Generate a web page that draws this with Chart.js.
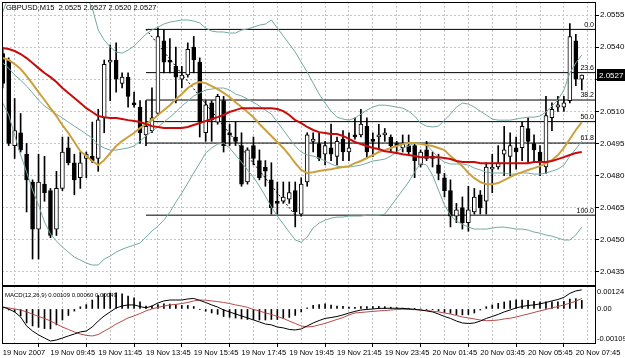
<!DOCTYPE html>
<html>
<head>
<meta charset="utf-8">
<script src="https://cdn.jsdelivr.net/npm/chart.js@4.4.1/dist/chart.umd.min.js"></script>
<style>
html, body { margin: 0; padding: 0; background: #fff; }
#wrap { position: relative; width: 625px; height: 358px; overflow: hidden; background: #fff; }
canvas { position: absolute; left: 0; }
#main { top: 0; }
#macd { top: 286px; }
.txt { position: absolute; font-family: 'Liberation Sans', Arial, sans-serif; color: #000; white-space: pre; line-height: 9px; }
</style>
</head>
<body>
<div id="wrap">
  <canvas id="main" width="625" height="286"></canvas>
  <canvas id="macd" width="625" height="72"></canvas>
  <div class="txt" style="left:6px;top:3px;font-size:7.5px">GBPUSD,M15  2.0525 2.0527 2.0520 2.0527</div>
  <div class="txt" style="left:5px;top:291px;font-size:6px">MACD(12,26,9) 0.00109 0.00060 0.00049</div>
</div>
<script>
// GBPUSD M15, 19 Nov 2007 07:45 .. 20 Nov 2007 08:00 (98 bars)
const tickLabels = ['19 Nov 2007', '19 Nov 09:45', '19 Nov 11:45', '19 Nov 13:45', '19 Nov 15:45',
  '19 Nov 17:45', '19 Nov 19:45', '19 Nov 21:45', '19 Nov 23:45', '20 Nov 01:45', '20 Nov 03:45',
  '20 Nov 05:45', '20 Nov 07:45']
const barsPerLabel = 8
const barsPerGrid = 4

const open = [2.0537,2.0534,2.0494,2.0500,2.0490,2.0477,2.0455,2.0476,2.0473,2.0455,
  2.0474,2.0493,2.0486,2.0479,2.0488,2.0489,2.0488,2.0507,2.0533,2.0534,
  2.0523,2.0526,2.0514,2.0512,2.0499,2.0501,2.0509,2.0543,2.0534,2.0531,
  2.0525,2.0527,2.0540,2.0533,2.0500,2.0514,2.0505,2.0515,2.0500,2.0498,
  2.0494,2.0477,2.0494,2.0487,2.0484,2.0478,2.0468,2.0468,2.0469,2.0473,
  2.0462,2.0477,2.0496,2.0495,2.0490,2.0493,2.0489,2.0497,2.0491,2.0499,
  2.0499,2.0503,2.0497,2.0498,2.0499,2.0498,2.0495,2.0493,2.0494,2.0494,
  2.0485,2.0492,2.0489,2.0485,2.0479,2.0473,2.0461,2.0465,2.0458,2.0463,
  2.0471,2.0468,2.0483,2.0484,2.0490,2.0489,2.0493,2.0493,2.0502,2.0495,
  2.0491,2.0484,2.0507,2.0512,2.0512,2.0515,2.0543,2.0525]
const high = [2.0539,2.0535,2.0516,2.0509,2.0495,2.0478,2.0490,2.0489,2.0474,2.0482,
  2.0498,2.0498,2.0490,2.0491,2.0491,2.0505,2.0511,2.0534,2.0541,2.0542,
  2.0528,2.0528,2.0519,2.0515,2.0515,2.0521,2.0549,2.0548,2.0544,2.0540,
  2.0531,2.0542,2.0545,2.0535,2.0515,2.0515,2.0518,2.0517,2.0504,2.0505,
  2.0500,2.0493,2.0498,2.0492,2.0487,2.0486,2.0477,2.0477,2.0477,2.0477,
  2.0479,2.0500,2.0500,2.0500,2.0496,2.0504,2.0498,2.0501,2.0500,2.0507,
  2.0511,2.0507,2.0500,2.0504,2.0502,2.0499,2.0496,2.0499,2.0499,2.0495,
  2.0492,2.0496,2.0491,2.0490,2.0481,2.0478,2.0467,2.0470,2.0475,2.0474,
  2.0473,2.0486,2.0490,2.0494,2.0503,2.0500,2.0498,2.0505,2.0507,2.0499,
  2.0494,2.0517,2.0514,2.0517,2.0517,2.0551,2.0546,2.0527]
const low = [2.0521,2.0494,2.0488,2.0491,2.0463,2.0441,2.0441,2.0468,2.0451,2.0452,
  2.0473,2.0485,2.0471,2.0474,2.0479,2.0486,2.0482,2.0500,2.0515,2.0519,
  2.0521,2.0512,2.0512,2.0495,2.0494,2.0500,2.0508,2.0528,2.0528,2.0514,
  2.0521,2.0526,2.0528,2.0498,2.0496,2.0496,2.0504,2.0491,2.0494,2.0494,
  2.0475,2.0476,2.0485,2.0478,2.0475,2.0462,2.0462,2.0467,2.0467,2.0456,
  2.0461,2.0475,2.0491,2.0487,2.0485,2.0487,2.0485,2.0487,2.0487,2.0497,
  2.0498,2.0488,2.0489,2.0492,2.0496,2.0491,2.0491,2.0491,2.0490,2.0479,
  2.0484,2.0487,2.0484,2.0478,2.0470,2.0456,2.0458,2.0455,2.0454,2.0462,
  2.0462,2.0462,2.0472,2.0483,2.0480,2.0480,2.0483,2.0487,2.0486,2.0486,
  2.0480,2.0481,2.0501,2.0510,2.0510,2.0514,2.0522,2.0520]
const close = [2.0523,2.0495,2.0501,2.0492,2.0478,2.0455,2.0477,2.0472,2.0452,2.0474,
  2.0491,2.0486,2.0478,2.0486,2.0490,2.0487,2.0506,2.0532,2.0534,2.0525,
  2.0526,2.0517,2.0513,2.0500,2.0503,2.0507,2.0545,2.0533,2.0533,2.0526,
  2.0527,2.0539,2.0534,2.0505,2.0513,2.0506,2.0517,2.0494,2.0499,2.0496,
  2.0476,2.0492,2.0488,2.0479,2.0482,2.0465,2.0467,2.0470,2.0472,2.0463,
  2.0476,2.0499,2.0497,2.0488,2.0494,2.0490,2.0496,2.0491,2.0493,2.0498,
  2.0504,2.0491,2.0496,2.0499,2.0500,2.0494,2.0494,2.0495,2.0491,2.0487,
  2.0491,2.0488,2.0488,2.0481,2.0473,2.0461,2.0464,2.0458,2.0464,2.0470,
  2.0465,2.0484,2.0484,2.0486,2.0492,2.0494,2.0491,2.0503,2.0496,2.0492,
  2.0486,2.0508,2.0511,2.0513,2.0514,2.0545,2.0525,2.0527]

// slow moving average (red)
const maRed = [2.05396,2.05391,2.05382,2.05368,2.05349,2.05326,2.05302,2.05279,2.05260,2.05237,
  2.05209,2.05186,2.05162,2.05139,2.05115,2.05097,2.05078,2.05073,2.05069,2.05069,
  2.05064,2.05059,2.05055,2.05050,2.05041,2.05031,2.05027,2.05022,2.05022,2.05022,
  2.05022,2.05027,2.05036,2.05045,2.05055,2.05064,2.05073,2.05083,2.05097,2.05106,
  2.05115,2.05115,2.05115,2.05115,2.05115,2.05115,2.05111,2.05101,2.05083,2.05059,
  2.05045,2.05027,2.05013,2.05003,2.04999,2.04994,2.04994,2.04985,2.04971,2.04957,
  2.04947,2.04938,2.04929,2.04924,2.04914,2.04910,2.04905,2.04900,2.04896,2.04891,
  2.04886,2.04886,2.04886,2.04886,2.04882,2.04877,2.04868,2.04863,2.04863,2.04863,
  2.04858,2.04858,2.04858,2.04858,2.04858,2.04858,2.04858,2.04858,2.04858,2.04863,
  2.04863,2.04863,2.04868,2.04877,2.04886,2.04896,2.04905,2.04910]
// fast moving average (gold)
const maGold = [2.05349,2.05340,2.05321,2.05298,2.05265,2.05228,2.05190,2.05153,2.05115,2.05078,
  2.05036,2.04999,2.04957,2.04914,2.04891,2.04868,2.04849,2.04872,2.04905,2.04938,
  2.04961,2.04980,2.04999,2.05022,2.05041,2.05059,2.05083,2.05106,2.05129,2.05157,
  2.05181,2.05209,2.05228,2.05237,2.05232,2.05218,2.05204,2.05186,2.05167,2.05143,
  2.05120,2.05097,2.05073,2.05041,2.05013,2.04985,2.04957,2.04929,2.04896,2.04858,
  2.04826,2.04812,2.04816,2.04821,2.04826,2.04830,2.04835,2.04840,2.04844,2.04858,
  2.04868,2.04882,2.04896,2.04910,2.04919,2.04929,2.04938,2.04947,2.04952,2.04952,
  2.04947,2.04943,2.04938,2.04929,2.04919,2.04891,2.04868,2.04844,2.04812,2.04788,
  2.04770,2.04760,2.04760,2.04765,2.04779,2.04793,2.04807,2.04816,2.04826,2.04835,
  2.04844,2.04858,2.04872,2.04896,2.04929,2.04971,2.05013,2.05050]
// bollinger bands
const bbUpper = [2.05564,2.05640,2.05680,2.05710,2.05740,2.05770,2.05807,2.05830,2.05844,2.05844,
  2.05830,2.05798,2.05751,2.05690,2.05634,2.05583,2.05480,2.05433,2.05401,2.05377,
  2.05372,2.05386,2.05405,2.05433,2.05461,2.05480,2.05494,2.05508,2.05517,2.05522,
  2.05527,2.05527,2.05522,2.05513,2.05489,2.05475,2.05471,2.05471,2.05466,2.05466,
  2.05480,2.05485,2.05494,2.05503,2.05508,2.05527,2.05489,2.05452,2.05415,2.05377,
  2.05330,2.05284,2.05232,2.05181,2.05139,2.05101,2.05073,2.05064,2.05059,2.05069,
  2.05087,2.05106,2.05120,2.05129,2.05129,2.05125,2.05120,2.05115,2.05101,2.05078,
  2.05045,2.05031,2.05027,2.05031,2.05059,2.05087,2.05120,2.05139,2.05134,2.05120,
  2.05101,2.05083,2.05064,2.05059,2.05059,2.05059,2.05064,2.05069,2.05073,2.05073,
  2.05078,2.05097,2.05125,2.05153,2.05200,2.05279,2.05326,2.05363]
const bbMid = [2.05326,2.05302,2.05270,2.05246,2.05218,2.05186,2.05153,2.05125,2.05106,2.05087,
  2.05069,2.05050,2.05031,2.05013,2.04994,2.04975,2.04943,2.04929,2.04919,2.04919,
  2.04924,2.04929,2.04938,2.04961,2.04985,2.05008,2.05027,2.05050,2.05073,2.05097,
  2.05125,2.05148,2.05172,2.05186,2.05200,2.05204,2.05209,2.05209,2.05200,2.05181,
  2.05172,2.05157,2.05143,2.05125,2.05106,2.05087,2.05050,2.05013,2.04975,2.04938,
  2.04910,2.04896,2.04891,2.04882,2.04868,2.04854,2.04844,2.04840,2.04840,2.04844,
  2.04849,2.04858,2.04868,2.04872,2.04877,2.04891,2.04910,2.04929,2.04938,2.04952,
  2.04952,2.04943,2.04914,2.04882,2.04863,2.04854,2.04854,2.04854,2.04849,2.04835,
  2.04826,2.04816,2.04812,2.04812,2.04812,2.04807,2.04807,2.04812,2.04812,2.04807,
  2.04807,2.04812,2.04821,2.04830,2.04849,2.04891,2.04924,2.04961]
const bbLower = [2.05139,2.05083,2.04989,2.04896,2.04816,2.04732,2.04662,2.04583,2.04527,2.04494,
  2.04466,2.04442,2.04419,2.04405,2.04391,2.04382,2.04382,2.04410,2.04424,2.04442,
  2.04456,2.04466,2.04475,2.04485,2.04513,2.04541,2.04564,2.04592,2.04629,2.04676,
  2.04718,2.04765,2.04812,2.04858,2.04905,2.04929,2.04947,2.04952,2.04929,2.04896,
  2.04863,2.04826,2.04793,2.04751,2.04704,2.04653,2.04611,2.04573,2.04536,2.04499,
  2.04489,2.04513,2.04555,2.04578,2.04592,2.04601,2.04606,2.04606,2.04611,2.04611,
  2.04611,2.04615,2.04615,2.04615,2.04620,2.04657,2.04695,2.04732,2.04770,2.04816,
  2.04858,2.04849,2.04802,2.04732,2.04662,2.04615,2.04587,2.04573,2.04559,2.04550,
  2.04550,2.04550,2.04555,2.04559,2.04559,2.04555,2.04550,2.04550,2.04545,2.04536,
  2.04531,2.04522,2.04517,2.04508,2.04499,2.04499,2.04522,2.04559]

// fibonacci retracement drawn from bar 24 (high) to bar 49 (low)
const fibNames = ['0.0', '23.6', '38.2', '50.0', '61.8', '100.0']
const fibPrices = [2.05483, 2.05281, 2.05153, 2.05052, 2.04952, 2.04615]
const fibFromBar = 24
const fibToBar = 49

// MACD(12,26,9)
const macdMain = [0.00011,0,-0.00017,-0.00046,-0.00097,-0.00126,-0.00148,-0.00166,-0.00183,-0.00177,
  -0.00166,-0.00154,-0.00143,-0.00131,-0.00126,-0.00103,-0.00069,-0.00040,-0.00017,0.00006,
  0.00017,0.00023,0.00023,0.00014,0.00006,0.00017,0.00034,0.00046,0.00051,0.00051,
  0.00051,0.00057,0.00060,0.00049,0.00037,0.00023,0.00011,-0.00006,-0.00017,-0.00029,
  -0.00040,-0.00051,-0.00063,-0.00074,-0.00086,-0.00091,-0.00103,-0.00108,-0.00117,-0.00120,
  -0.00114,-0.00097,-0.00080,-0.00066,-0.00054,-0.00049,-0.00043,-0.00034,-0.00023,-0.00014,
  -0.00006,-0.00003,0,0.00003,0.00004,0.00004,0.00004,0.00003,0.00001,-0.00002,
  -0.00006,-0.00011,-0.00017,-0.00029,-0.00043,-0.00054,-0.00069,-0.00080,-0.00083,-0.00080,
  -0.00069,-0.00054,-0.00043,-0.00031,-0.00017,-0.00006,0.00006,0.00014,0.00020,0.00023,
  0.00029,0.00037,0.00046,0.00054,0.00066,0.00089,0.00103,0.00109]
const macdSignal = [0.00011,0.00006,0,-0.00006,-0.00017,-0.00029,-0.00043,-0.00054,-0.00069,-0.00086,
  -0.00103,-0.00117,-0.00131,-0.00143,-0.00151,-0.00154,-0.00146,-0.00126,-0.00108,-0.00086,
  -0.00069,-0.00051,-0.00040,-0.00026,-0.00011,0,0.00009,0.00017,0.00023,0.00026,
  0.00031,0.00037,0.00046,0.00051,0.00050,0.00046,0.00042,0.00037,0.00031,0.00023,
  0.00017,0.00009,-0.00003,-0.00011,-0.00023,-0.00031,-0.00043,-0.00054,-0.00069,-0.00083,
  -0.00097,-0.00103,-0.00100,-0.00091,-0.00083,-0.00071,-0.00060,-0.00049,-0.00034,-0.00023,
  -0.00020,-0.00017,-0.00014,-0.00011,-0.00009,-0.00006,-0.00003,-0.00002,-0.00003,-0.00004,
  -0.00006,-0.00009,-0.00013,-0.00017,-0.00023,-0.00029,-0.00037,-0.00046,-0.00051,-0.00057,
  -0.00063,-0.00067,-0.00066,-0.00063,-0.00057,-0.00053,-0.00046,-0.00037,-0.00029,-0.00020,
  -0.00011,-0.00003,0.00006,0.00014,0.00023,0.00033,0.00044,0.00060]
const macdHist = [0,-0.00006,-0.00017,-0.00040,-0.00080,-0.00097,-0.00105,-0.00112,-0.00114,-0.00091,
  -0.00063,-0.00037,-0.00012,0.00012,0.00025,0.00051,0.00077,0.00086,0.00091,0.00092,
  0.00086,0.00074,0.00063,0.00040,0.00017,0.00017,0.00025,0.00029,0.00028,0.00025,
  0.00020,0.00020,0.00014,-0.00002,-0.00013,-0.00023,-0.00031,-0.00043,-0.00048,-0.00052,
  -0.00057,-0.00060,-0.00060,-0.00063,-0.00063,-0.00060,-0.00060,-0.00054,-0.00048,-0.00037,
  -0.00017,0.00006,0.00020,0.00025,0.00029,0.00022,0.00017,0.00015,0.00011,0.00009,
  0.00014,0.00014,0.00014,0.00014,0.00013,0.00010,0.00007,0.00005,0.00004,0.00002,
  0,-0.00002,-0.00004,-0.00012,-0.00020,-0.00025,-0.00032,-0.00034,-0.00032,-0.00023,
  -0.00006,0.00013,0.00023,0.00032,0.00040,0.00047,0.00052,0.00051,0.00049,0.00043,
  0.00040,0.00040,0.00040,0.00040,0.00043,0.00056,0.00059,0.00049]

// axis ticks
const priceTicks = [2.0435, 2.0450, 2.0465, 2.0480, 2.0495, 2.0510, 2.0525, 2.0540, 2.0555]
const macdTickValues = [0.00098, 0, -0.00173]
const macdTickLabels = ['0.00124', '0.00', '-0.00109']

// visible window
const xMin = -0.12, xMax = 99.38
const yMin = 2.04284, yMax = 2.05611
const macdMin = -0.0020, macdMax = 0.00131

const gridColor = '#c4c4c4'
const fontFam = "'Liberation Sans', Arial, sans-serif"
const fontAxis = { family: fontFam, size: 8 }
const fontTime = { family: fontFam, size: 7.5 }
Chart.defaults.font.family = fontFam

const pts = arr => arr.map((v, i) => ({ x: i, y: v }))
const gridBars = []
for (let b = 0; b <= open.length - 1; b += barsPerGrid) gridBars.push(b)

function fixX(h) { return s => { s.height = h; s.paddingLeft = 0; s.paddingRight = 0 } }
function fixY(w) { return s => { s.width = w; s.paddingTop = 0; s.paddingBottom = 0 } }

const frame = {
	id: 'frame',
	afterDraw(chart) {
		const { ctx, chartArea: a } = chart
		ctx.save()
		ctx.strokeStyle = '#000'
		ctx.lineWidth = 1
		ctx.strokeRect(a.left + 0.5, a.top + 0.5, a.right - a.left - 1, a.bottom - a.top - 1)
		ctx.restore()
	}
}

// level names of the fibo, and the current price box on the axis
const mainLabels = {
	id: 'mainLabels',
	afterDraw(chart) {
		const { ctx, chartArea: a } = chart
		const y = chart.scales.y
		ctx.save()
		ctx.font = "7px " + fontFam
		ctx.fillStyle = '#000'
		ctx.textAlign = 'right'
		ctx.textBaseline = 'bottom'
		fibNames.forEach((n, i) => {
			ctx.fillText(n, a.right - 2, y.getPixelForValue(fibPrices[i]) - 1)
		})
		const last = close[close.length - 1]
		const py = Math.round(y.getPixelForValue(last))
		ctx.fillStyle = '#000'
		ctx.fillRect(a.right + 1, py - 6, 625 - a.right - 1, 12)
		ctx.fillStyle = '#fff'
		ctx.textAlign = 'left'
		ctx.textBaseline = 'middle'
		ctx.font = "8px " + fontFam
		ctx.fillText(last.toFixed(4), a.right + 3, py + 0.5)
		ctx.restore()
	}
}

const fibDatasets = fibPrices.map(p => ({
	type: 'line',
	data: [{ x: fibFromBar, y: p }, { x: xMax, y: p }],
	borderColor: '#000',
	borderWidth: 1,
	pointRadius: 0,
	order: 6
}))

function bandLine(arr, color, width, order) {
	return { type: 'line', data: pts(arr), borderColor: color, borderWidth: width, pointRadius: 0, tension: 0, clip: 0, order: order }
}

new Chart(document.getElementById('main'), {
	type: 'bar',
	data: {
		datasets: [
			bandLine(maRed, '#c80a0a', 2, 0),
			bandLine(maGold, '#caa13a', 2, 1),
			bandLine(bbUpper, '#74a9a1', 1, 2),
			bandLine(bbMid, '#74a9a1', 1, 2),
			bandLine(bbLower, '#74a9a1', 1, 2),
			{
				type: 'bar',
				data: open.map((o, i) => ({ x: i, y: [Math.min(o, close[i]), Math.max(o, close[i])] })),
				backgroundColor: open.map((o, i) => close[i] > o ? '#fff' : '#000'),
				borderColor: '#000',
				borderWidth: 1,
				borderSkipped: false,
				barThickness: 4,
				grouped: false,
				order: 3
			},
			{
				type: 'bar',
				data: high.map((h, i) => ({ x: i, y: [low[i], h] })),
				backgroundColor: '#000',
				borderWidth: 0,
				barThickness: 1,
				grouped: false,
				order: 4
			},
			...fibDatasets,
			{
				type: 'line',
				data: [{ x: fibFromBar, y: fibPrices[0] }, { x: fibToBar, y: fibPrices[fibPrices.length - 1] }],
				borderColor: '#000',
				borderWidth: 1,
				borderDash: [2, 2],
				pointRadius: 0,
				order: 6
			}
		]
	},
	options: {
		responsive: false,
		animation: false,
		events: [],
		layout: { padding: { left: 2, top: 2, right: 0, bottom: 0 } },
		plugins: { legend: { display: false }, tooltip: { enabled: false } },
		scales: {
			x: {
				type: 'linear', min: xMin, max: xMax, offset: false,
				afterBuildTicks: s => { s.ticks = gridBars.map(v => ({ value: v })) },
				ticks: { display: false },
				grid: { color: gridColor, drawTicks: false, borderDash: [2, 2] },
				border: { display: false, dash: [2, 2] },
				afterFit: fixX(0)
			},
			y: {
				position: 'right', min: yMin, max: yMax,
				afterBuildTicks: s => { s.ticks = priceTicks.map(v => ({ value: v })) },
				ticks: { callback: v => v.toFixed(4), color: '#000', font: fontAxis, padding: 1 },
				grid: { color: gridColor, tickColor: '#000', tickLength: 3, tickBorderDash: [], borderDash: [2, 2] },
				border: { display: false, dash: [2, 2] },
				afterFit: fixY(29)
			}
		}
	},
	plugins: [frame, mainLabels]
})

new Chart(document.getElementById('macd'), {
	type: 'bar',
	data: {
		datasets: [
			{ type: 'line', data: pts(macdMain), borderColor: '#000', borderWidth: 1, pointRadius: 0, order: 0 },
			{ type: 'line', data: pts(macdSignal), borderColor: '#b84a4a', borderWidth: 1, pointRadius: 0, order: 1 },
			{ type: 'bar', data: pts(macdHist), backgroundColor: '#000', borderWidth: 0, barThickness: 1, grouped: false, order: 2 }
		]
	},
	options: {
		responsive: false,
		animation: false,
		events: [],
		layout: { padding: { left: 2, top: 0, right: 0, bottom: 0 } },
		plugins: { legend: { display: false }, tooltip: { enabled: false } },
		scales: {
			x: {
				type: 'linear', min: xMin, max: xMax, offset: false,
				afterBuildTicks: s => { s.ticks = gridBars.map(v => ({ value: v })) },
				ticks: {
					align: 'start', autoSkip: false, maxRotation: 0, minRotation: 0, padding: 1,
					color: '#000', font: fontTime,
					callback: v => v % barsPerLabel === 0 ? tickLabels[v / barsPerLabel] : ''
				},
				grid: {
					color: gridColor, borderDash: [2, 2], tickLength: 3, tickBorderDash: [],
					tickColor: c => (c.tick && c.tick.value % barsPerLabel === 0) ? '#000' : 'rgba(0,0,0,0)'
				},
				border: { display: false, dash: [2, 2] },
				afterFit: fixX(14)
			},
			y: {
				position: 'right', min: macdMin, max: macdMax,
				afterBuildTicks: s => { s.ticks = macdTickValues.map(v => ({ value: v })) },
				ticks: { callback: (v, i) => macdTickLabels[i], color: '#000', font: fontTime, padding: 1 },
				grid: { drawOnChartArea: false, drawTicks: false },
				border: { display: false },
				afterFit: fixY(29)
			}
		}
	},
	plugins: [frame]
})
</script>
</body>
</html>
